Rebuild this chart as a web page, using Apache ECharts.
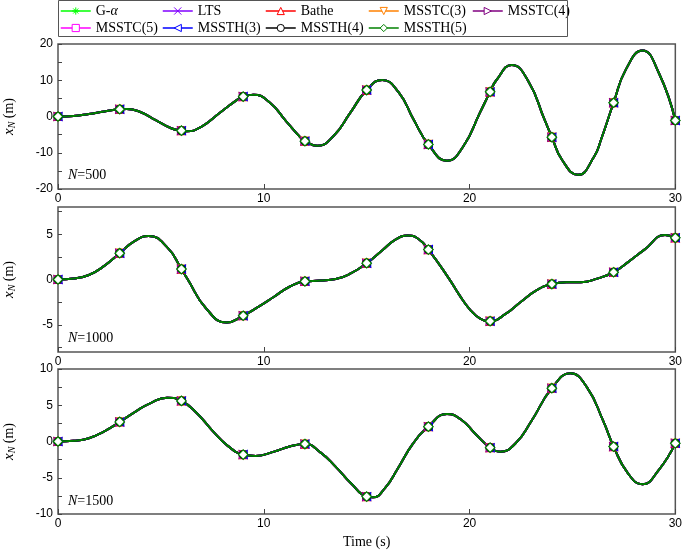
<!DOCTYPE html>
<html><head><meta charset="utf-8">
<script src="https://cdn.jsdelivr.net/npm/echarts@6/dist/echarts.min.js"></script>
<style>html,body{margin:0;padding:0;background:#fff}#c{width:685px;height:552px}</style>
</head><body><div id="c"></div>
<script>
// ---------- data ----------
const methods = ['G-α','LTS','Bathe','MSSTC(3)','MSSTC(4)','MSSTC(5)','MSSTH(3)','MSSTH(4)','MSSTH(5)'];
const panelN = ['500','1000','1500'];
const xTickLabels = [0,10,20,30];

const t500 = [0,0.75,1.5,2.25,3,3.35,4,4.75,5.5,6,6.25,7,7.85,8.7,9,9.5,10.3,11.05,11.8,12,12.6,13.4,14.2,15,15.75,16.55,17.3,18,18.9,19.7,20.5,21,21.3,22.05,22.85,23.65,24,24.5,25.27,26.05,26.4,27,27.6,28.4,29.2,30];
const x500 = [0,0.15,0.7,1.4,2.0,2.1,1.25,-1.0,-3.25,-3.9,-4.1,-2.7,0.95,4.6,5.5,6.0,3.8,-1.05,-5.9,-6.8,-8.1,-5.3,1.0,7.3,10.1,6.7,-1.05,-7.7,-12.2,-8.2,1.0,6.8,10.0,14.2,9.8,-0.95,-5.7,-12.0,-16.1,-11.1,-6.2,3.8,13.0,18.2,12.0,-1.1];

const t1000 = [0,0.75,1.5,2.25,3,3.7,4.4,5.3,6,6.3,7.2,8.2,9,9.75,10.5,11.25,12,12.75,13.5,14.25,15,15.75,16.4,17,17.5,18,19,19.5,20,20.5,21,21.75,22.5,23.25,24,24.7,25.4,26.2,27,27.75,28.5,29.5,30];
const x1000 = [0,0.1,0.5,1.5,2.9,4.2,4.8,3.57,1.15,0.03,-3.2,-4.75,-4.0,-3.0,-1.9,-0.8,-0.2,-0.12,0.05,0.7,1.8,3.2,4.4,4.85,4.5,3.3,0.1,-1.7,-3.26,-4.3,-4.6,-3.8,-2.45,-1.2,-0.5,-0.3,-0.3,0.1,0.8,2.0,3.3,4.9,4.6];

const t1500 = [0,0.75,1.5,2.25,3,3.75,4.5,5.3,6,6.75,7.5,8.25,9,9.6,10.5,11.25,12,12.75,13.5,14.25,15,15.3,15.9,16.5,17.25,18,18.9,19.6,20.3,21,21.5,22.25,23,24,24.9,25.7,26.5,27,27.7,28.4,29.2,30];
const x1500 = [0,0.1,0.45,1.4,2.7,4.1,5.3,6.05,5.6,3.9,1.5,-0.6,-1.8,-2.0,-1.4,-0.7,-0.35,-1.5,-3.5,-5.8,-7.6,-7.7,-6.4,-3.8,-0.3,2.05,3.8,3.0,1.0,-0.85,-1.4,-0.2,2.8,7.35,9.4,7.5,2.8,-0.7,-4.4,-5.9,-3.9,-0.25];

const yMins = [-20,-8,-10];
const yMaxs = [20,8,10];

// ---------- styles ----------
const colors = ['#00ff00','#8000ff','#ff0000','#ff8000','#800080','#ff00ff','#0000ff','#000000','#008000'];
const symbols = ['path://M5,0L5,10M0,5L10,5M1.5,1.5L8.5,8.5M8.5,1.5L1.5,8.5','path://M0,0L10,10M10,0L0,10','triangle','triangle','triangle','rect','triangle','circle','diamond'];
const rotates = [0,0,0,180,-90,0,90,0,0];
const sizes = [7,7,8,8,8,6.5,8,8,9.5];

const grids = [
  {left:58, top:44, width:620, height:145},
  {left:58, top:207, width:620, height:145},
  {left:58, top:369, width:620, height:145}
];
const tsets = [t500,t1000,t1500];
const xsets = [x500,x1000,x1500];

function buildData(ts, xs){
  return ts.map((t,i)=>{
    const isMark = Math.abs(t/3 - Math.round(t/3)) < 1e-9;
    return isMark ? {value:[t,xs[i]]} : {value:[t,xs[i]], symbol:'none'};
  });
}

const sans = 'Liberation Sans, Arial, sans-serif';
const serif = 'Liberation Serif, Times New Roman, serif';

const xAxes = grids.map((g,p)=>({
  type:'value', gridIndex:p, min:0, max:30, interval:10,
  axisLine:{show:false, onZero:false},
  axisTick:{show:true, inside:true, length:5, lineStyle:{color:'#444', width:1}},
  axisLabel:{show:true, margin:4, fontFamily:sans, fontSize:12, color:'#000'},
  splitLine:{show:false},
  name: p===2 ? 'Time (s)' : '',
  nameLocation:'middle', nameGap:21,
  nameTextStyle:{fontFamily:serif, fontSize:14, color:'#000', verticalAlign:'top'}
}));

const yAxes = grids.map((g,p)=>{
  const ax = {
    type:'value', gridIndex:p, min:yMins[p], max:yMaxs[p],
    axisLine:{show:false, onZero:false},
    axisTick:{show:true, inside:true, length:4, lineStyle:{color:'#444', width:1}},
    axisLabel:{show:true, margin:5, fontFamily:sans, fontSize:12, color:'#000'},
    splitLine:{show:false}
  };
  if (p===0){ ax.interval=10; ax.minorTick={show:true, splitNumber:2, length:4, lineStyle:{color:'#444'}}; }
  if (p===2){ ax.interval=5; ax.minorTick={show:true, splitNumber:2, length:4, lineStyle:{color:'#444'}}; }
  if (p===1){
    ax.axisLabel.customValues=[-5,0,5];
    ax.axisTick.customValues=[-7.5,-5,-2.5,0,2.5,5,7.5];
  }
  return ax;
});

const series = [];
for (let p=0;p<3;p++){
  methods.forEach((m,k)=>{
    series.push({
      type:'line', name:m, xAxisIndex:p, yAxisIndex:p,
      data: buildData(tsets[p], xsets[p]),
      smooth:0.5,
      symbol:symbols[k], symbolSize:sizes[k], symbolRotate:rotates[k],
      lineStyle:{color:colors[k], width:2},
      itemStyle:{color:'#ffffff', borderColor:colors[k], borderWidth:1.2},
      emphasis:{disabled:true},
      silent:true
    });
  });
}

const legLefts = [60,162,265,368,472,60,162,265,368];
const legTops = [4,4,4,4,4,21,21,21,21];
const legends = methods.map((m,k)=>({
  data:[m], left:legLefts[k], top:legTops[k],
  itemWidth:30, itemHeight:9, itemGap:5, padding:0,
  selectedMode:false,
  itemStyle:{borderWidth:1},
  lineStyle:{width:1.5},
  formatter: n => n==='G-α' ? 'G-{i|α}' : n,
  textStyle:{fontFamily:serif, fontSize:14, color:'#000', padding:[0,0,0,0],
    rich:{i:{fontFamily:serif, fontSize:14, fontStyle:'italic', color:'#000'}}}
}));

const graphics = [
  {type:'rect', shape:{x:58.5, y:0.5, width:509, height:36}, style:{fill:'none', stroke:'#555', lineWidth:1}, z:10}
];
const labelYs = [175, 338, 501];
const panelCenters = [116.5, 279.5, 441.5];
for (let p=0;p<3;p++){
  graphics.push({type:'text', x:68, y:labelYs[p], z:10,
    style:{text:'{i|N}=' + panelN[p], fontFamily:serif, fontSize:14, fill:'#000', verticalAlign:'middle', align:'left',
      rich:{i:{fontFamily:serif, fontSize:14, fontStyle:'italic', fill:'#000'}}}});
  graphics.push({type:'text', x:9, y:panelCenters[p], rotation:Math.PI/2, z:10,
    style:{text:'{i|x}{s|N} (m)', fontFamily:serif, fontSize:14, fill:'#000', align:'center', verticalAlign:'middle',
      rich:{i:{fontFamily:serif, fontSize:15, fontStyle:'italic', fill:'#000'},
            s:{fontFamily:serif, fontSize:10, fontStyle:'italic', fill:'#000', padding:[7,0,0,0]}}}});
}

const chart = echarts.init(document.getElementById('c'), null, {renderer:'canvas'});
chart.setOption({
  animation:false,
  backgroundColor:'#fff',
  grid: grids.map(g=>Object.assign({show:true, borderColor:'#555', borderWidth:1.5, backgroundColor:'transparent', containLabel:false}, g)),
  xAxis:xAxes, yAxis:yAxes,
  legend:legends,
  graphic:graphics,
  series:series
});
</script></body></html>
